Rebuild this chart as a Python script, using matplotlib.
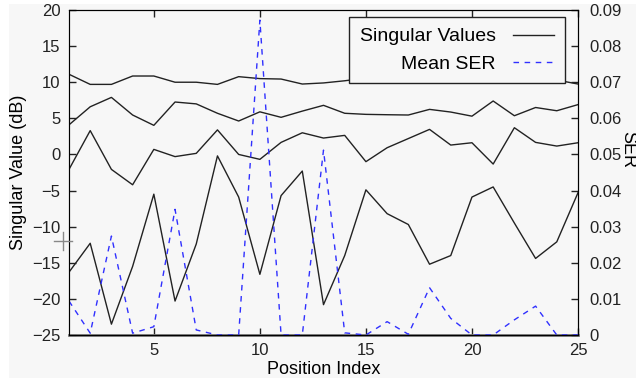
import numpy as np
import matplotlib.pyplot as plt
from matplotlib.patches import Rectangle
from matplotlib.lines import Line2D

plt.rcParams['font.family'] = ['Liberation Sans', 'DejaVu Sans']

# position index
pos = np.arange(1, 26)

# singular values (dB), four curves
sv1 = [11.1, 9.7, 9.7, 10.86, 10.86, 10.0, 10.0, 9.7, 10.77, 10.5, 10.44, 9.75, 9.9,
       10.2, 10.58, 10.49, 10.3, 9.85, 10.4, 10.4, 9.85, 10.1, 10.1, 10.3, 9.75]
sv2 = [4.1, 6.6, 7.9, 5.46, 4.03, 7.26, 7.0, 5.7, 4.63, 5.9, 5.14, 6.0, 6.8,
       5.7, 5.55, 5.5, 5.46, 6.24, 5.87, 5.3, 7.4, 5.36, 6.5, 6.05, 6.9]
sv3 = [-2.07, 3.3, -2.07, -4.2, 0.7, -0.3, 0.15, 3.4, 0.0, -0.68, 1.67, 3.0, 2.27,
       2.64, -1.0, 0.93, 2.2, 3.47, 1.3, 1.62, -1.33, 3.7, 1.67, 1.16, 1.62]
sv4 = [-16.3, -12.3, -23.5, -15.5, -5.5, -20.3, -12.4, -0.2, -5.9, -16.6, -5.7, -2.3, -20.8,
       -14.0, -4.9, -8.2, -9.7, -15.2, -14.0, -5.9, -4.5, -9.5, -14.4, -12.1, -5.3]

# mean symbol error rate
ser = [0.0094, 0.0005, 0.0274, 0.0005, 0.0023, 0.0348, 0.0014, 0.0, 0.0, 0.0872,
       0.0, 0.0, 0.0512, 0.0006, 0.0, 0.0037, 0.0002, 0.0131, 0.0046, 0.0,
       0.0, 0.0042, 0.008, 0.0, 0.0]

bg = '#f7f7f7'
fig = plt.figure(figsize=(6.36, 3.78), dpi=100, facecolor='white')
fig.patches.append(Rectangle((9 / 636, 0), 1, 1 - 4 / 378, transform=fig.transFigure,
                             facecolor=bg, edgecolor='none', zorder=-10))

ax = fig.add_axes([69 / 636, 43 / 378, 509 / 636, 325 / 378])
ax.set_facecolor(bg)
for s in [sv1, sv2, sv3, sv4]:
    ax.plot(pos, s, color='#222222', lw=1.0)

ax.set_xlim(1, 25)
ax.set_ylim(-25, 20)
ax.set_xticks([5, 10, 15, 20, 25])
ax.set_yticks(np.arange(-25, 21, 5))
ax.tick_params(direction='in', length=5, width=1, top=True, labelsize=12,
               colors='#222222', pad=6)
ax.tick_params(axis='y', right=False)
ax.set_xlabel('Position Index', fontsize=13, labelpad=2)
ax.set_ylabel('Singular Value (dB)', fontsize=13, labelpad=4)
ax.spines['bottom'].set_color('#777777')
ax.spines['bottom'].set_linewidth(2)
ax.spines['left'].set_color('#444444')

ax2 = ax.twinx()
ax2.plot(pos, ser, color='#3030ff', lw=1.0, ls=(0, (4, 4)))
ax2.set_ylim(0, 0.09)
ax2.set_yticks(np.arange(0, 0.091, 0.01))
ax2.set_yticklabels(['0'] + ['%.2f' % v for v in np.arange(0.01, 0.091, 0.01)])
ax2.tick_params(direction='in', length=5, width=1, labelsize=12, colors='#222222', pad=8)
ax2.set_ylabel('SER', fontsize=13, rotation=270, va='center')
ax2.yaxis.set_label_coords(1.098, 0.57)

handles = [Line2D([], [], color='#222222', lw=1.0),
           Line2D([], [], color='#3030ff', lw=1.0, ls=(0, (4, 4)))]
leg = ax2.legend(handles, ['Singular Values', 'Mean SER'], loc='upper right',
                 bbox_to_anchor=(0.9745, 0.978), markerfirst=False, fancybox=False,
                 framealpha=1, facecolor=bg, edgecolor='#222222', fontsize=14,
                 handlelength=2.1, borderpad=0.55, labelspacing=0.5, handletextpad=0.9,
                 borderaxespad=0)
leg.get_frame().set_linewidth(1.0)

# cursor artifact on the left axis
fig.add_artist(Line2D([54 / 636, 72 / 636], [1 - 241 / 378] * 2, color='#888888', lw=1))
fig.add_artist(Line2D([63 / 636] * 2, [1 - 232 / 378, 1 - 250 / 378], color='#888888', lw=1))

fig.savefig('out.png', dpi=100, facecolor=fig.get_facecolor())
